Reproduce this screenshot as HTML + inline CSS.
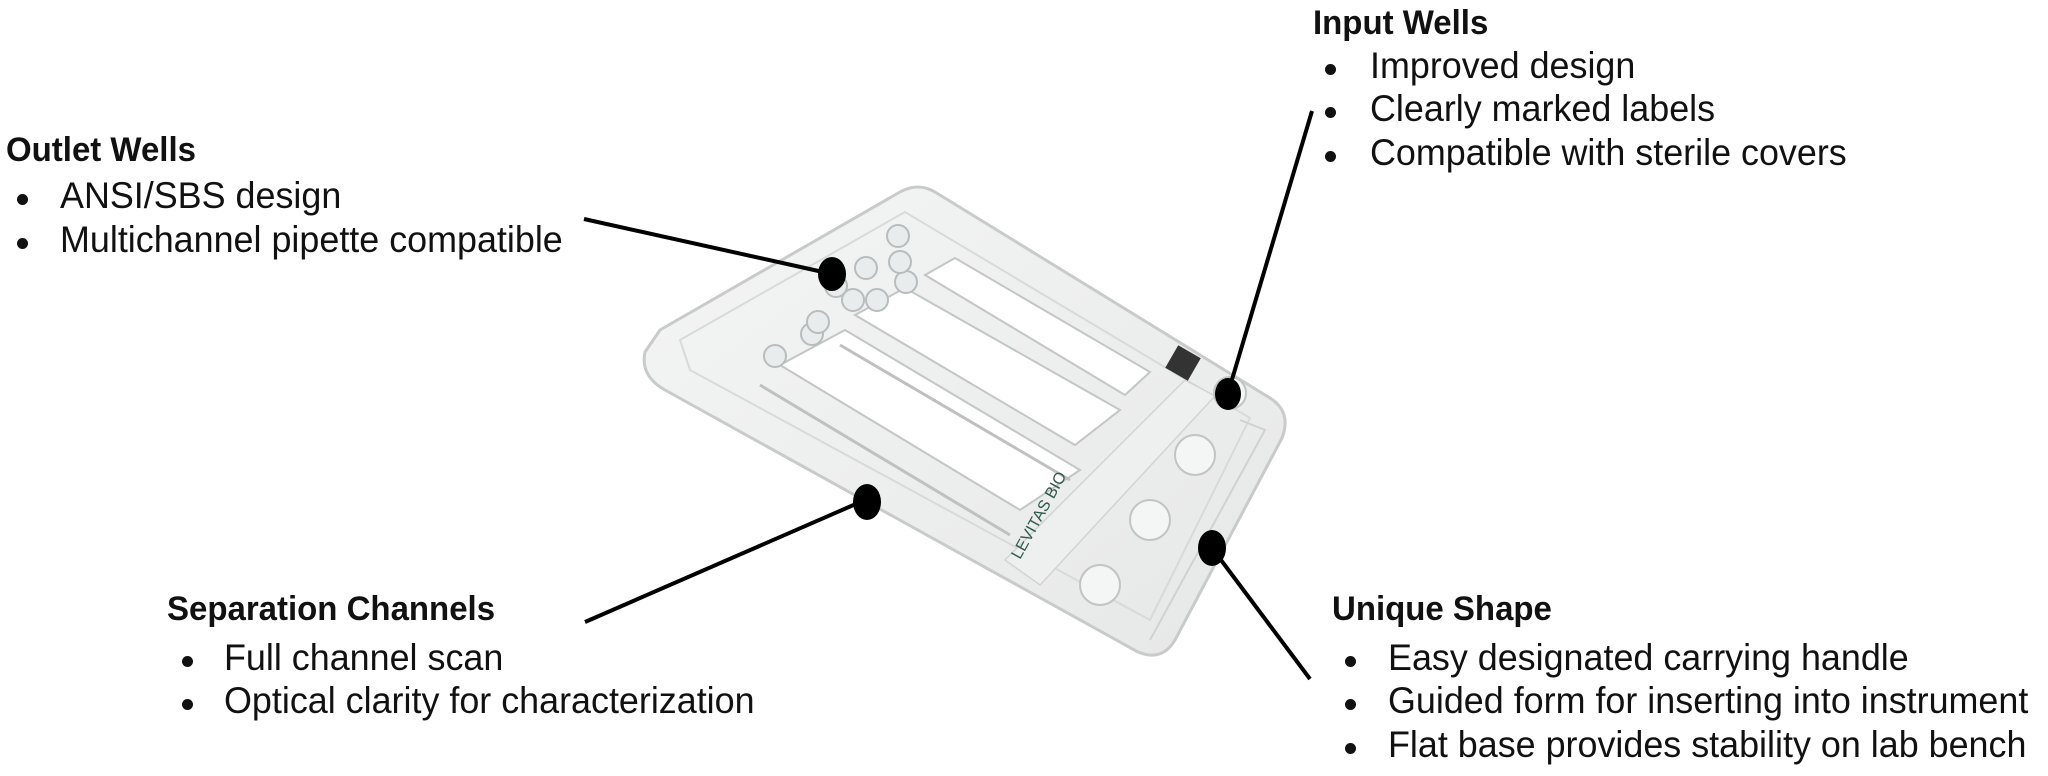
<!DOCTYPE html>
<html><head><meta charset="utf-8"><style>
html,body{margin:0;padding:0;background:#fff}
body{width:2048px;height:776px;position:relative;overflow:hidden;font-family:"Liberation Sans",sans-serif;color:#111}
.t{position:absolute;font-weight:bold;font-size:34px;white-space:nowrap;transform-origin:0 0;transform:scaleX(0.97)}
.b{position:absolute;font-size:37px;white-space:nowrap;transform-origin:0 0;transform:scaleX(0.97)}
.d{position:absolute;width:11px;height:11px;border-radius:50%;background:#111}
svg{position:absolute;left:0;top:0}
</style></head><body>
<svg width="2048" height="776" viewBox="0 0 2048 776">
  <defs>
    <linearGradient id="g" x1="0" y1="0" x2="1" y2="1">
      <stop offset="0" stop-color="#f4f5f5"/><stop offset="1" stop-color="#e6e7e7"/>
    </linearGradient>
  </defs>
  <path d="M660,330 L900,192 Q918,182 935,192 L1270,398 Q1292,412 1282,438 L1175,640 Q1162,662 1138,652 L665,390 Q640,376 645,352 Z" fill="url(#g)" stroke="#c9cbcb" stroke-width="3"/>
  <path d="M680,340 L905,212 L1250,418 L1150,620 L690,370 Z" fill="none" stroke="#d8dada" stroke-width="2"/>
  <path d="M780,365 L845,330 L1080,470 L1020,510 Z" fill="#fff" stroke="#c4c6c6" stroke-width="2"/>
  <path d="M855,315 L905,288 L1120,410 L1075,445 Z" fill="#fff" stroke="#c4c6c6" stroke-width="2"/>
  <path d="M925,275 L955,258 L1150,372 L1125,395 Z" fill="#fff" stroke="#c4c6c6" stroke-width="2"/>
  <line x1="760" y1="385" x2="1010" y2="535" stroke="#bfc1c1" stroke-width="3"/>
  <line x1="840" y1="345" x2="1070" y2="480" stroke="#bfc1c1" stroke-width="3"/>
  <g fill="#e9ecec" stroke="#b8bcbc" stroke-width="2">
    <circle cx="775" cy="356" r="11"/><circle cx="812" cy="334" r="11"/>
    <circle cx="818" cy="322" r="11"/><circle cx="853" cy="300" r="11"/>
    <circle cx="836" cy="286" r="11"/><circle cx="866" cy="268" r="11"/>
    <circle cx="877" cy="300" r="11"/><circle cx="906" cy="282" r="11"/>
    <circle cx="900" cy="262" r="11"/><circle cx="898" cy="236" r="11"/>
  </g>
  <path d="M1005,560 L1185,380 L1215,396 L1040,585 Z" fill="#eef0ef" stroke="#d2d4d4" stroke-width="1.5"/>
  <text x="0" y="0" font-size="16" fill="#2e5a4a" font-family="Liberation Sans,sans-serif" transform="translate(1020,560) rotate(-61)">LEVITAS BIO</text>
  <rect x="1170" y="350" width="26" height="26" fill="#333" transform="rotate(-60 1183 363)"/>
  <g fill="#f4f6f6" stroke="#c0c4c4" stroke-width="2">
    <circle cx="1230" cy="393" r="16"/>
    <circle cx="1195" cy="455" r="20"/>
    <circle cx="1150" cy="520" r="20"/>
    <circle cx="1100" cy="585" r="20"/>
  </g>
  <path d="M1240,420 L1265,430 L1150,640" fill="none" stroke="#d0d2d2" stroke-width="2"/>
  <g stroke="#000" stroke-width="4">
    <line x1="584" y1="219" x2="832" y2="274"/>
    <line x1="1312" y1="111" x2="1228" y2="393"/>
    <line x1="585" y1="622" x2="865" y2="500"/>
    <line x1="1310" y1="679" x2="1212" y2="548"/>
  </g>
  <g fill="#000">
    <ellipse cx="832" cy="274" rx="14" ry="17"/>
    <ellipse cx="1228" cy="394" rx="13" ry="16"/>
    <ellipse cx="867" cy="502" rx="14" ry="18"/>
    <ellipse cx="1212" cy="548" rx="14" ry="18"/>
  </g>
</svg>

<div class="t" style="left:6px;top:131px">Outlet Wells</div>
<div class="d" style="left:17px;top:194px"></div><div class="b" style="left:60px;top:175px">ANSI/SBS design</div>
<div class="d" style="left:17px;top:238px"></div><div class="b" style="left:60px;top:219px">Multichannel pipette compatible</div>

<div class="t" style="left:1313px;top:4px">Input Wells</div>
<div class="d" style="left:1325px;top:64px"></div><div class="b" style="left:1370px;top:45px">Improved design</div>
<div class="d" style="left:1325px;top:107px"></div><div class="b" style="left:1370px;top:88px">Clearly marked labels</div>
<div class="d" style="left:1325px;top:151px"></div><div class="b" style="left:1370px;top:132px">Compatible with sterile covers</div>

<div class="t" style="left:167px;top:590px">Separation Channels</div>
<div class="d" style="left:182px;top:656px"></div><div class="b" style="left:224px;top:637px">Full channel scan</div>
<div class="d" style="left:182px;top:699px"></div><div class="b" style="left:224px;top:680px">Optical clarity for characterization</div>

<div class="t" style="left:1332px;top:590px">Unique Shape</div>
<div class="d" style="left:1345px;top:656px"></div><div class="b" style="left:1388px;top:637px">Easy designated carrying handle</div>
<div class="d" style="left:1345px;top:699px"></div><div class="b" style="left:1388px;top:680px">Guided form for inserting into instrument</div>
<div class="d" style="left:1345px;top:743px"></div><div class="b" style="left:1388px;top:724px">Flat base provides stability on lab bench</div>
</body></html>
